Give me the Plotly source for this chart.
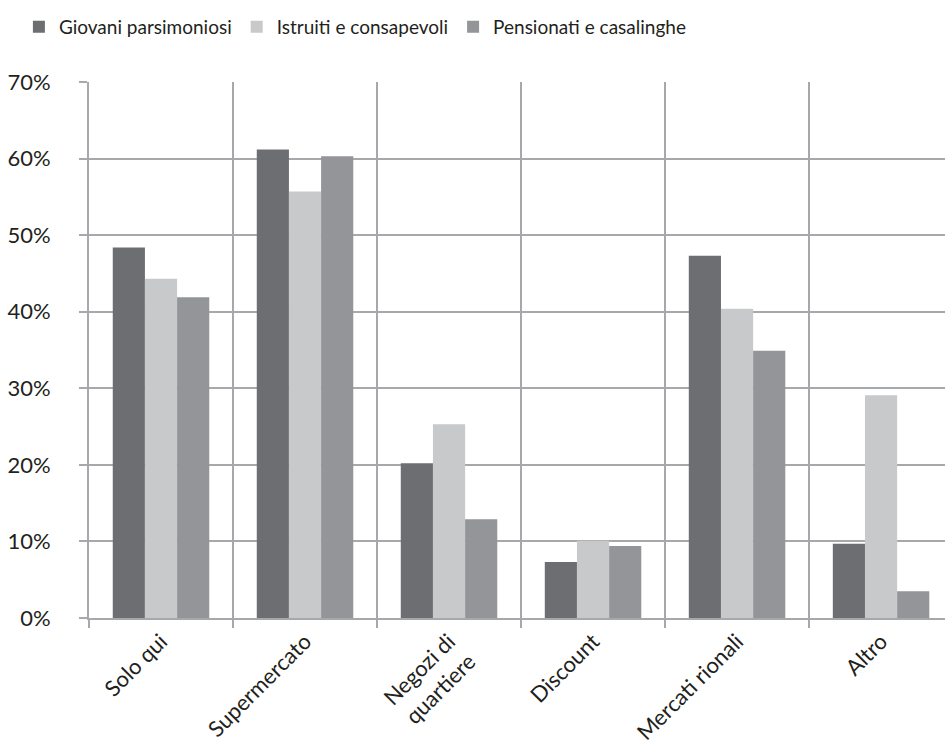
import plotly.graph_objects as go

categories = ["Solo qui", "Supermercato", "Negozi di<br>quartiere", "Discount", "Mercati rionali", "Altro"]
series_names = ["Giovani parsimoniosi", "Istruiti e consapevoli", "Pensionati e casalinghe"]
giovani = [48.4, 61.2, 20.2, 7.3, 47.3, 9.7]
istruiti = [44.3, 55.7, 25.3, 10.1, 40.4, 29.1]
pensionati = [41.9, 60.3, 12.9, 9.4, 34.9, 3.5]
colors = ["#6d6e71", "#c8c9cb", "#939598"]
y_ticks = [0, 10, 20, 30, 40, 50, 60, 70]
y_ticklabels = [f"{v}%" for v in y_ticks]

fig = go.Figure()
for name, vals, col in zip(series_names, [giovani, istruiti, pensionati], colors):
    fig.add_trace(go.Bar(x=categories, y=vals, name=name, marker=dict(color=col, line=dict(width=0))))

grid = "#a7a8ab"
fig.update_layout(
    width=945, height=746,
    margin=dict(l=89, r=0, t=82, b=128, autoexpand=False),
    paper_bgcolor="white", plot_bgcolor="white",
    barmode="group", bargap=0.33, bargroupgap=0,
    font=dict(family="Lato", size=21, color="#231f20"),
    legend=dict(orientation="h", x=0.02, xref="container", xanchor="left",
                y=0.964, yref="container", yanchor="middle",
                font=dict(size=19, family="Lato"),
                itemwidth=30, traceorder="normal"),
    showlegend=True,
)
fig.update_xaxes(
    type="category", range=[-0.5, 5.444], tickson="boundaries",
    ticks="outside", ticklen=8, tickwidth=2, tickcolor=grid,
    showgrid=True, gridcolor=grid, gridwidth=2,
    showline=True, linecolor=grid, linewidth=2,
    tickangle=-45, tickfont=dict(size=22),
)
fig.update_yaxes(
    range=[0, 70], tickvals=y_ticks, ticktext=y_ticklabels,
    ticks="outside", ticklen=8, tickwidth=2, tickcolor=grid,
    showgrid=True, gridcolor=grid, gridwidth=2,
    showline=True, linecolor=grid, linewidth=2,
    ticklabelstandoff=24, tickfont=dict(size=22), zeroline=False,
)
fig.write_html("out.html")
